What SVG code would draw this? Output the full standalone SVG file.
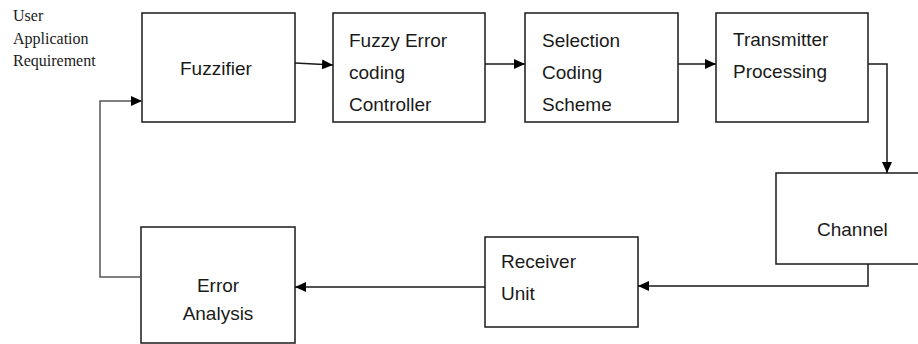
<svg xmlns="http://www.w3.org/2000/svg" width="918" height="344" viewBox="0 0 918 344">
<style>
.box{fill:#fff;stroke:#1a1a1a;stroke-width:1.5}
.t{font-family:"Liberation Sans",Arial,sans-serif;font-size:19px;fill:#1a1a1a}
.s{font-family:"Liberation Serif","Times New Roman",serif;font-size:16px;fill:#1a1a1a}
.c{fill:none;stroke:#1a1a1a;stroke-width:1.5}
</style>
<defs>
<marker id="ah" viewBox="0 0 11 10" refX="11" refY="5" markerWidth="11" markerHeight="10" markerUnits="userSpaceOnUse" orient="auto">
<path d="M0,0 L11,5 L0,10 Z" fill="#000"/>
</marker>
</defs>
<rect width="918" height="344" fill="#fff"/>
<text class="s" x="13" y="21">User</text>
<text class="s" x="13" y="44">Application</text>
<text class="s" x="13" y="66">Requirement</text>
<g id="fuzzifier"><rect class="box" x="142" y="13" width="153" height="109"/><text class="t" x="180" y="75">Fuzzifier</text></g>
<g id="controller"><rect class="box" x="333" y="13" width="152" height="109"/><text class="t" x="349" y="47">Fuzzy Error</text><text class="t" x="349" y="79">coding</text><text class="t" x="349" y="111">Controller</text></g>
<g id="selection"><rect class="box" x="525" y="13" width="153" height="109"/><text class="t" x="542" y="47">Selection</text><text class="t" x="542" y="79">Coding</text><text class="t" x="542" y="111">Scheme</text></g>
<g id="transmitter"><rect class="box" x="716" y="13" width="152" height="109"/><text class="t" x="733" y="46">Transmitter</text><text class="t" x="733" y="78">Processing</text></g>
<g id="channel"><rect class="box" x="776" y="173" width="150" height="91"/><text class="t" x="817" y="236">Channel</text></g>
<g id="receiver"><rect class="box" x="485" y="237" width="153" height="90"/><text class="t" x="501" y="268">Receiver</text><text class="t" x="501" y="300">Unit</text></g>
<g id="error"><rect class="box" x="141" y="227" width="154" height="116"/><text class="t" x="218" y="292" text-anchor="middle">Error</text><text class="t" x="218" y="320" text-anchor="middle">Analysis</text></g>
<g id="connectors">
<path class="c" d="M295,63 L333,65" marker-end="url(#ah)"/>
<path class="c" d="M485,64 L525,64" marker-end="url(#ah)"/>
<path class="c" d="M678,64 L716,64" marker-end="url(#ah)"/>
<path class="c" d="M868,64 L887,64 L887,173" marker-end="url(#ah)"/>
<path class="c" d="M868,264 L868,286 L638,286" marker-end="url(#ah)"/>
<path class="c" d="M485,287 L295,287" marker-end="url(#ah)"/>
<path class="c" d="M141,277 L100,277 L100,101 L142,101" style="stroke:#555" marker-end="url(#ah)"/>
</g>
</svg>
